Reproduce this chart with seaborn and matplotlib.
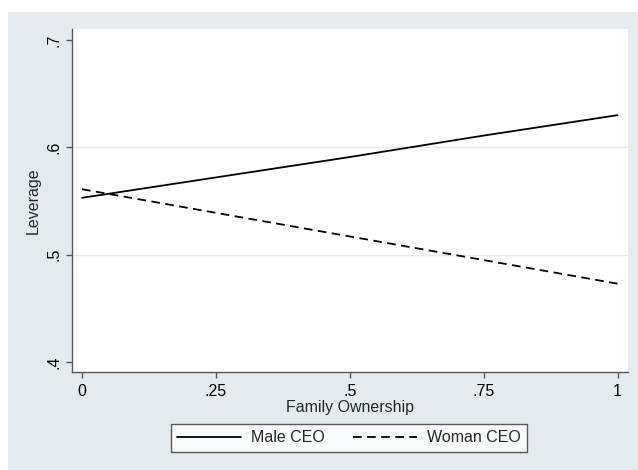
import numpy as np
import pandas as pd
import matplotlib
matplotlib.use("Agg")
import matplotlib.pyplot as plt
from matplotlib.patches import Rectangle
from matplotlib.lines import Line2D
import seaborn as sns

# Predicted leverage over family ownership, by CEO gender
ownership = [0.0, 0.25, 0.5, 0.75, 1.0]
male_ceo = [0.553, 0.572, 0.591, 0.611, 0.630]
woman_ceo = [0.561, 0.539, 0.517, 0.495, 0.473]
series_names = ["Male CEO", "Woman CEO"]
x_ticks = [0, 0.25, 0.5, 0.75, 1]
x_tick_labels = ["0", ".25", ".5", ".75", "1"]
y_ticks = [0.4, 0.5, 0.6, 0.7]
y_tick_labels = [".4", ".5", ".6", ".7"]

df = pd.DataFrame({
    "Family Ownership": ownership * 2,
    "Leverage": male_ceo + woman_ceo,
    "group": [series_names[0]] * len(ownership) + [series_names[1]] * len(ownership),
})

sns.set_theme(style="white")
plt.rcParams["font.family"] = ["Liberation Sans", "DejaVu Sans"]
plt.rcParams["font.size"] = 11

W, H = 638, 470
fig = plt.figure(figsize=(W / 100, H / 100), dpi=100, facecolor="white")

region_color = "#E3EBEF"
fig.patches.append(Rectangle((8 / W, 0), 1 - 8 / W, 1 - 12 / H,
                             transform=fig.transFigure, facecolor=region_color,
                             edgecolor="none", zorder=-10))

left, right, top, bottom = 72, 628, 29, 372
ax = fig.add_axes([left / W, 1 - bottom / H, (right - left) / W, (bottom - top) / H])
ax.set_zorder(1)
ax.set_facecolor("white")

lw = 1.3
dash = (4.8, 3.0)
sns.lineplot(data=df, x="Family Ownership", y="Leverage", hue="group", style="group",
             palette={series_names[0]: "black", series_names[1]: "black"},
             dashes={series_names[0]: "", series_names[1]: dash},
             linewidth=lw, ax=ax, legend=False)

ax.set_xlim(-0.0187, 1.0196)
ax.set_ylim(0.3907, 0.7103)
ax.set_xticks(x_ticks)
ax.set_xticklabels(x_tick_labels)
ax.set_yticks(y_ticks)
ax.set_yticklabels(y_tick_labels, rotation=90, va="center")

axis_color = "#555555"
for side in ["top", "right"]:
    ax.spines[side].set_visible(False)
for side in ["left", "bottom"]:
    ax.spines[side].set_color(axis_color)
    ax.spines[side].set_linewidth(1.0)

ax.tick_params(axis="both", which="major", direction="out", length=4, width=1.0,
               color=axis_color, labelsize=11.5, labelcolor="black", left=True, bottom=True)
ax.tick_params(axis="x", pad=5)
ax.tick_params(axis="y", pad=3.5)

# Horizontal grid at interior y ticks only
ax.yaxis.grid(True, color="#E1EAEE", linewidth=1.0)
ax.xaxis.grid(False)
for loc, tick in zip(ax.get_yticks(), ax.yaxis.get_major_ticks()):
    if loc <= y_ticks[0] or loc >= y_ticks[-1]:
        tick.gridline.set_visible(False)

ax.set_xlabel("Family Ownership", fontsize=11.5, labelpad=0.5)
ax.set_ylabel("Leverage", fontsize=11.5, labelpad=4)

handles = [
    Line2D([], [], color="black", linewidth=lw),
    Line2D([], [], color="black", linewidth=lw, linestyle=(0, dash)),
]
leg = ax.legend(handles, series_names, loc="center",
                bbox_to_anchor=(349 / W, 1 - 438 / H), bbox_transform=fig.transFigure,
                ncol=2, frameon=True, fancybox=False, fontsize=11.5,
                handlelength=4.0, handletextpad=0.6, columnspacing=1.8,
                borderpad=0.4, borderaxespad=0)
leg.get_frame().set_edgecolor("#333333")
leg.get_frame().set_linewidth(1.0)
leg.get_frame().set_facecolor("white")

fig.savefig("out.png", dpi=100, facecolor="white")
